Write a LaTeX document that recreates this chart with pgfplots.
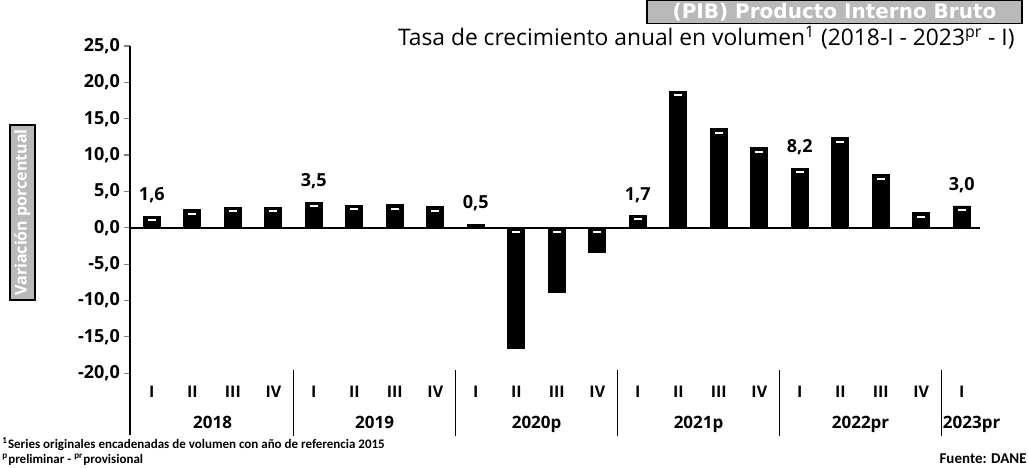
\documentclass[border=0pt]{standalone}
\usepackage{pgfplots}
\pgfplotsset{compat=1.18}
\usepackage{fontspec}
\setmainfont{Open Sans}
\newfontfamily\cond{Carlito}
\newfontfamily\dejavu{DejaVu Sans}
\begin{document}
\begin{tikzpicture}[x=1pt,y=1pt]
\useasboundingbox (0,0) rectangle (514,234);
\begin{axis}[
 at={(65pt,16.5pt)}, anchor=south west,
 scale only axis, width=425pt, height=194.5pt,
 xmin=-0.54, xmax=20.45, ymin=-28.5, ymax=25,
 axis x line=none, axis y line*=left,
 ytick={-20,-15,...,25},
 /pgf/number format/assume math mode=true,
 yticklabel style={/pgf/number format/.cd, fixed, fixed zerofill, precision=1, use comma, /tikz/.cd, font=\bfseries\fontsize{9}{9}\selectfont, xshift=1.5pt},
 tick align=outside, major tick length=3pt,
 y axis line style={line width=0.8pt},
 ytick style={line width=0.6pt},
 clip=false,
]
\addplot[ybar, bar width=8.5pt, bar shift=0pt, fill=black, draw=black] coordinates {
(0,1.6) (1,2.5) (2,2.8) (3,2.8) (4,3.5) (5,3.1) (6,3.2) (7,2.9)
(8,0.5) (9,-16.6) (10,-8.9) (11,-3.4) (12,1.7) (13,18.8) (14,13.6) (15,11.0)
(16,8.2) (17,12.4) (18,7.3) (19,2.1) (20,3.0)};
\addplot[only marks, mark=-, mark size=2pt, white, line width=1pt] coordinates {
(0,1.05) (1,1.95) (2,2.25) (3,2.25) (4,2.95) (5,2.55) (6,2.65) (7,2.35)
(9,-0.55) (10,-0.55) (11,-0.55) (12,1.15) (13,18.25) (14,13.05) (15,10.45)
(16,7.65) (17,11.85) (18,6.75) (19,1.55) (20,2.45)};
\draw[line width=0.9pt] (axis cs:-0.54,0) -- (axis cs:20.45,0);
\foreach \xx in {3.5,7.5,11.5,15.5,19.5}{
  \edef\tmp{\noexpand\draw[line width=0.8pt] (axis cs:\xx,-19.6) -- (axis cs:\xx,-28.6);}\tmp
}
\begin{scope}[every node/.style={font=\bfseries\fontsize{8}{8}\selectfont}]
\node at (axis cs:0,-22.6) {I};
\node at (axis cs:1,-22.6) {II};
\node at (axis cs:2,-22.6) {III};
\node at (axis cs:3,-22.6) {IV};
\node at (axis cs:4,-22.6) {I};
\node at (axis cs:5,-22.6) {II};
\node at (axis cs:6,-22.6) {III};
\node at (axis cs:7,-22.6) {IV};
\node at (axis cs:8,-22.6) {I};
\node at (axis cs:9,-22.6) {II};
\node at (axis cs:10,-22.6) {III};
\node at (axis cs:11,-22.6) {IV};
\node at (axis cs:12,-22.6) {I};
\node at (axis cs:13,-22.6) {II};
\node at (axis cs:14,-22.6) {III};
\node at (axis cs:15,-22.6) {IV};
\node at (axis cs:16,-22.6) {I};
\node at (axis cs:17,-22.6) {II};
\node at (axis cs:18,-22.6) {III};
\node at (axis cs:19,-22.6) {IV};
\node at (axis cs:20,-22.6) {I};
\end{scope}
\begin{scope}[every node/.style={font=\bfseries\fontsize{8.5}{8.5}\selectfont, anchor=base}]
\node at (axis cs:1.5,-27.65) {2018};
\node at (axis cs:5.5,-27.65) {2019};
\node at (axis cs:9.5,-27.65) {2020p};
\node at (axis cs:13.5,-27.65) {2021p};
\node at (axis cs:17.5,-27.65) {2022pr};
\node[anchor=base west, inner sep=0.5pt] at (axis cs:19.5,-27.65) {2023pr};
\end{scope}
\begin{scope}[every node/.style={font=\bfseries\fontsize{9}{9}\selectfont, anchor=south, yshift=3pt}]
\node at (axis cs:0,1.6) {1,6};
\node at (axis cs:4,3.5) {3,5};
\node at (axis cs:8,0.5) {0,5};
\node at (axis cs:12,1.7) {1,7};
\node at (axis cs:16,8.2) {8,2};
\node at (axis cs:20,3.0) {3,0};
\end{scope}
\end{axis}
\node[fill=gray!55, draw=black, line width=0.6pt, minimum width=187.5pt, minimum height=11.5pt, inner sep=0pt, text=white, font=\dejavu\bfseries\fontsize{10}{10}\selectfont] at (417.25,227.9) {(PIB) Producto Interno Bruto};
\node[anchor=east, inner sep=0pt, font=\fontsize{11.4}{11.4}\selectfont] at (507.5,215) {Tasa de crecimiento anual en volumen\textsuperscript{1} (2018-I - 2023\textsuperscript{pr} - I)};
\node[fill=gray!55, draw=black, line width=0.6pt, rotate=90, minimum width=87.5pt, minimum height=12.5pt, inner sep=0pt, text=white, font=\bfseries\fontsize{8}{8}\selectfont] at (11.25,127.75) {Variación porcentual};
\node[anchor=west, inner sep=0pt, font=\cond\bfseries\fontsize{6.5}{6.5}\selectfont] at (1,11.7) {\textsuperscript{1}Series originales encadenadas de volumen con año de referencia 2015};
\node[anchor=west, inner sep=0pt, font=\cond\bfseries\fontsize{6.5}{6.5}\selectfont] at (1,4.3) {\textsuperscript{p}preliminar - \textsuperscript{pr}provisional};
\node[anchor=east, inner sep=0pt, font=\cond\bfseries\fontsize{7.5}{7.5}\selectfont] at (513.5,4.5) {Fuente: DANE};
\end{tikzpicture}
\end{document}
